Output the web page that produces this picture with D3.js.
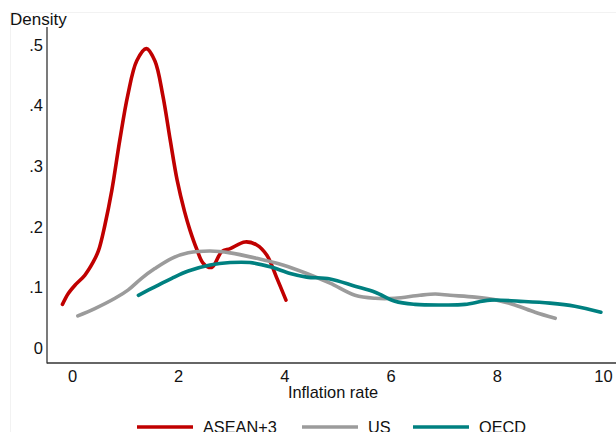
<!DOCTYPE html>
<html>
<head>
<meta charset="utf-8">
<script src="https://cdn.jsdelivr.net/npm/d3@7"></script>
<style>
  html, body { margin: 0; padding: 0; background: #ffffff; }
  svg { display: block; font-family: "Liberation Sans", Arial, sans-serif; }
</style>
</head>
<body>
<svg id="chart" width="616" height="432"></svg>
<script>
// Kernel density estimates of inflation rates
const seriesNames = ["ASEAN+3", "US", "OECD"];
const seriesColors = ["#c00000", "#9b9b9b", "#008080"];

const aseanX = [-0.18, -0.07, 0.06, 0.24, 0.40, 0.50, 0.62, 0.75, 0.90, 1.05, 1.22, 1.40, 1.56, 1.71, 1.85, 1.98, 2.12, 2.22, 2.35, 2.47, 2.63, 2.82, 2.98, 3.26, 3.48, 3.67, 3.85, 4.03];
const aseanY = [0.072, 0.090, 0.104, 0.120, 0.142, 0.161, 0.203, 0.260, 0.343, 0.417, 0.474, 0.494, 0.474, 0.417, 0.343, 0.277, 0.225, 0.195, 0.163, 0.140, 0.133, 0.159, 0.164, 0.175, 0.170, 0.153, 0.117, 0.079];

const usX = [0.11, 0.43, 0.81, 1.06, 1.31, 1.56, 1.88, 2.19, 2.60, 2.98, 3.48, 3.97, 4.42, 4.86, 5.33, 5.71, 6.08, 6.55, 6.84, 7.12, 7.59, 8.00, 8.34, 8.72, 9.10];
const usY = [0.053, 0.065, 0.082, 0.096, 0.115, 0.131, 0.148, 0.157, 0.160, 0.157, 0.148, 0.137, 0.123, 0.107, 0.087, 0.082, 0.082, 0.087, 0.089, 0.087, 0.084, 0.079, 0.071, 0.059, 0.049];

const oecdX = [1.25, 1.56, 1.88, 2.19, 2.60, 2.98, 3.35, 3.73, 4.11, 4.42, 4.86, 5.33, 5.71, 6.08, 6.46, 7.02, 7.40, 7.87, 8.44, 9.00, 9.47, 9.96];
const oecdY = [0.087, 0.101, 0.115, 0.127, 0.137, 0.141, 0.141, 0.134, 0.123, 0.117, 0.114, 0.102, 0.092, 0.077, 0.072, 0.071, 0.072, 0.079, 0.077, 0.074, 0.069, 0.059];

const xTicks = [0, 2, 4, 6, 8, 10];
const yTicks = [0, 0.1, 0.2, 0.3, 0.4, 0.5];
const yTickLabels = ["0", ".1", ".2", ".3", ".4", ".5"];

const series = [
  { name: seriesNames[0], color: seriesColors[0], pts: aseanX.map((x, i) => [x, aseanY[i]]) },
  { name: seriesNames[1], color: seriesColors[1], pts: usX.map((x, i) => [x, usY[i]]) },
  { name: seriesNames[2], color: seriesColors[2], pts: oecdX.map((x, i) => [x, oecdY[i]]) }
];

const FONT = "Liberation Sans, Arial, sans-serif";
const svg = d3.select("#chart");

// faint outer frame
svg.append("rect")
  .attr("x", 10.5).attr("y", 12.5)
  .attr("width", 620).attr("height", 430)
  .attr("fill", "none").attr("stroke", "#f2f2f2");

const x = d3.scaleLinear().domain([0, 10]).range([72, 603]);
const y = d3.scaleLinear().domain([0, 0.5]).range([348, 45]);

const axisLeftX = 47, axisBottomY = 363;

// y axis (line + labels, no tick marks)
const yAxis = svg.append("g").attr("transform", `translate(${axisLeftX},0)`)
  .call(d3.axisLeft(y).tickValues(yTicks).tickFormat((d, i) => yTickLabels[i]).tickSize(0).tickPadding(4));
yAxis.select(".domain").remove();
yAxis.selectAll("text").attr("font-size", 16.5).attr("fill", "#111").attr("font-family", FONT);
svg.append("line").attr("x1", axisLeftX).attr("x2", axisLeftX).attr("y1", 27).attr("y2", axisBottomY + 0.5)
  .attr("stroke", "#333").attr("stroke-width", 1.3);

// x axis
const xAxis = svg.append("g").attr("transform", `translate(0,${axisBottomY})`)
  .call(d3.axisBottom(x).tickValues(xTicks).tickFormat(d3.format("d")).tickSize(0).tickPadding(7));
xAxis.select(".domain").remove();
xAxis.selectAll("text").attr("font-size", 16.5).attr("fill", "#111").attr("font-family", FONT);
svg.append("line").attr("x1", axisLeftX).attr("x2", 616).attr("y1", axisBottomY).attr("y2", axisBottomY)
  .attr("stroke", "#333").attr("stroke-width", 1.3);

// axis titles
svg.append("text").attr("x", 10).attr("y", 25).attr("font-size", 17).attr("fill", "#111").text("Density");
svg.append("text").attr("x", 333).attr("y", 398).attr("text-anchor", "middle")
  .attr("font-size", 16.4).attr("fill", "#111").text("Inflation rate");

// density curves
const line = d3.line().x(d => x(d[0])).y(d => y(d[1])).curve(d3.curveCatmullRom.alpha(0.5));
svg.append("g").selectAll("path").data(series).join("path")
  .attr("d", d => line(d.pts))
  .attr("fill", "none")
  .attr("stroke", d => d.color)
  .attr("stroke-width", 3.6)
  .attr("stroke-linejoin", "round")
  .attr("stroke-linecap", "round");

// legend along the bottom edge
const legendX = [137, 302, 413];
const lg = svg.append("g").selectAll("g").data(series).join("g")
  .attr("transform", (d, i) => `translate(${legendX[i]},427)`);
lg.append("line").attr("x1", 0).attr("x2", 56).attr("y1", 0).attr("y2", 0)
  .attr("stroke", d => d.color).attr("stroke-width", 3.6);
lg.append("text").attr("x", 66).attr("y", 6).attr("font-size", 16.3).attr("fill", "#111").text(d => d.name);
</script>
</body>
</html>
